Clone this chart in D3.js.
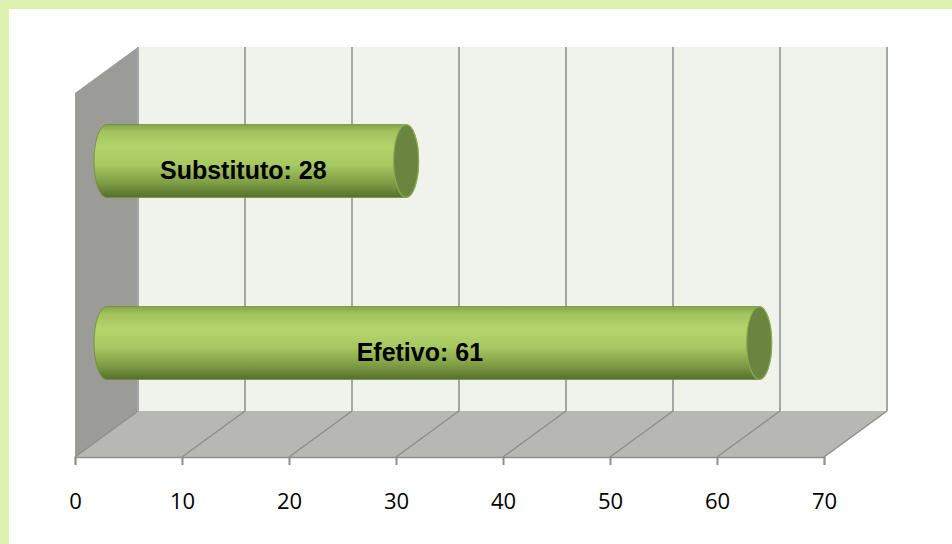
<!DOCTYPE html>
<html>
<head>
<meta charset="utf-8">
<script src="https://cdn.jsdelivr.net/npm/d3@7"></script>
<style>
	html, body { margin: 0; padding: 0; background: #fff; }
	svg { display: block; }
</style>
</head>
<body>
<div id="chart"></div>
<script>
// dados
var categories = ["Substituto", "Efetivo"];
var values = [28, 61];
var ticks = [0, 10, 20, 30, 40, 50, 60, 70];

(function() {
	var width = 952,
		height = 544,
		// profundidade 3D (deslocamento da parede de fundo)
		depth = { x: 63, y: -46 },
		front = { left: 75, right: 824, top: 93, bottom: 457 };

	var svg = d3.select("#chart").append("svg")
		.attr("width", width)
		.attr("height", height);

	// moldura verde
	svg.append("rect")
		.attr("x", 4.5).attr("y", 4.5)
		.attr("width", width + 20).attr("height", height + 20)
		.attr("fill", "#fff")
		.attr("stroke", "#ddf2b1")
		.attr("stroke-width", 9);

	var defs = svg.append("defs");
	var grad = defs.append("linearGradient")
		.attr("id", "cyl")
		.attr("x1", 0).attr("y1", 0).attr("x2", 0).attr("y2", 1);
	[["0%", "#86a648"], ["10%", "#a2c35d"], ["30%", "#b3d56b"], ["55%", "#a8c962"],
		["80%", "#7f9e45"], ["100%", "#55702a"]].forEach(function(s) {
		grad.append("stop").attr("offset", s[0]).attr("stop-color", s[1]);
	});

	// escalas (frente)
	var x = d3.scaleLinear().domain([0, 70]).range([front.left, front.right]);
	var y = d3.scaleBand().domain(categories)
		.range([front.top, front.bottom])
		.paddingInner(0.6)
		.paddingOuter(0.3);

	var pts = function(a) { return a.map(function(p) { return p.join(","); }).join(" "); };
	var x0 = x(0), x1 = x(70), yt = front.top, yb = front.bottom;

	// parede de fundo
	svg.append("rect")
		.attr("x", x0 + depth.x).attr("y", yt + depth.y)
		.attr("width", x1 - x0).attr("height", yb - yt)
		.attr("fill", "#f0f3eb");

	// parede lateral
	svg.append("polygon")
		.attr("points", pts([[x0, yt], [x0 + depth.x, yt + depth.y], [x0 + depth.x, yb + depth.y], [x0, yb]]))
		.attr("fill", "#9b9c98");

	// chão
	svg.append("polygon")
		.attr("points", pts([[x0, yb], [x0 + depth.x, yb + depth.y], [x1 + depth.x, yb + depth.y], [x1, yb]]))
		.attr("fill", "#b7b8b4");

	// linhas de grade verticais na parede de fundo
	svg.selectAll(".vgrid")
		.data(ticks)
		.enter()
		.append("line")
		.attr("class", "vgrid")
		.attr("x1", function(d) { return x(d) + depth.x; })
		.attr("x2", function(d) { return x(d) + depth.x; })
		.attr("y1", yt + depth.y)
		.attr("y2", yb + depth.y)
		.attr("stroke", "#a6a7a4")
		.attr("stroke-width", 2);

	// linhas de grade no chão
	svg.selectAll(".fgrid")
		.data(ticks)
		.enter()
		.append("line")
		.attr("class", "fgrid")
		.attr("x1", function(d) { return x(d); })
		.attr("y1", yb)
		.attr("x2", function(d) { return x(d) + depth.x; })
		.attr("y2", yb + depth.y)
		.attr("stroke", "#8e8f8c")
		.attr("stroke-width", 1.5);

	// eixo x
	var axis = svg.append("g")
		.attr("transform", "translate(0," + yb + ")")
		.call(d3.axisBottom(x).tickValues(ticks).tickSize(8).tickPadding(28));
	axis.select(".domain").attr("stroke", "#8e8f8c").attr("stroke-width", 1.5);
	axis.selectAll(".tick line").attr("stroke", "#8e8f8c").attr("stroke-width", 2);
	axis.selectAll(".tick text")
		.attr("fill", "#000")
		.style("font-family", "'Open Sans', 'DejaVu Sans', sans-serif")
		.style("font-size", "22px");

	// cilindros (meia profundidade)
	var mid = { x: depth.x / 2, y: depth.y / 2 },
		rx = 12.5;
	var bars = svg.selectAll(".bar")
		.data(values)
		.enter()
		.append("g")
		.attr("class", "bar")
		.attr("transform", "translate(" + mid.x + "," + mid.y + ")");

	bars.append("path")
		.attr("d", function(d, i) {
			var top = y(categories[i]),
				bot = top + y.bandwidth(),
				ry = y.bandwidth() / 2,
				a = x(0),
				b = x(d);
			return "M" + a + "," + top + "L" + b + "," + top +
				"A" + rx + "," + ry + " 0 0 1 " + b + "," + bot +
				"L" + a + "," + bot +
				"A" + rx + "," + ry + " 0 0 1 " + a + "," + top + "Z";
		})
		.attr("fill", "url(#cyl)")
		.attr("stroke", "#6f8c3a")
		.attr("stroke-width", 0.8);

	bars.append("ellipse")
		.attr("cx", function(d) { return x(d); })
		.attr("cy", function(d, i) { return y(categories[i]) + y.bandwidth() / 2; })
		.attr("rx", rx)
		.attr("ry", y.bandwidth() / 2)
		.attr("fill", "#6a8540")
		.attr("stroke", "#8aab4f")
		.attr("stroke-width", 1.2);

	// rótulos
	bars.append("text")
		.attr("x", function(d) { return (x(0) + x(d)) / 2 - 13; })
		.attr("y", function(d, i) { return y(categories[i]) + y.bandwidth() / 2 + 11; })
		.attr("text-anchor", "middle")
		.attr("dominant-baseline", "middle")
		.style("font-family", "'Liberation Sans', Arial, sans-serif")
		.style("font-weight", "bold")
		.style("font-size", "25px")
		.attr("fill", "#000")
		.text(function(d, i) { return categories[i] + ": " + d; });
})();
</script>
</body>
</html>
